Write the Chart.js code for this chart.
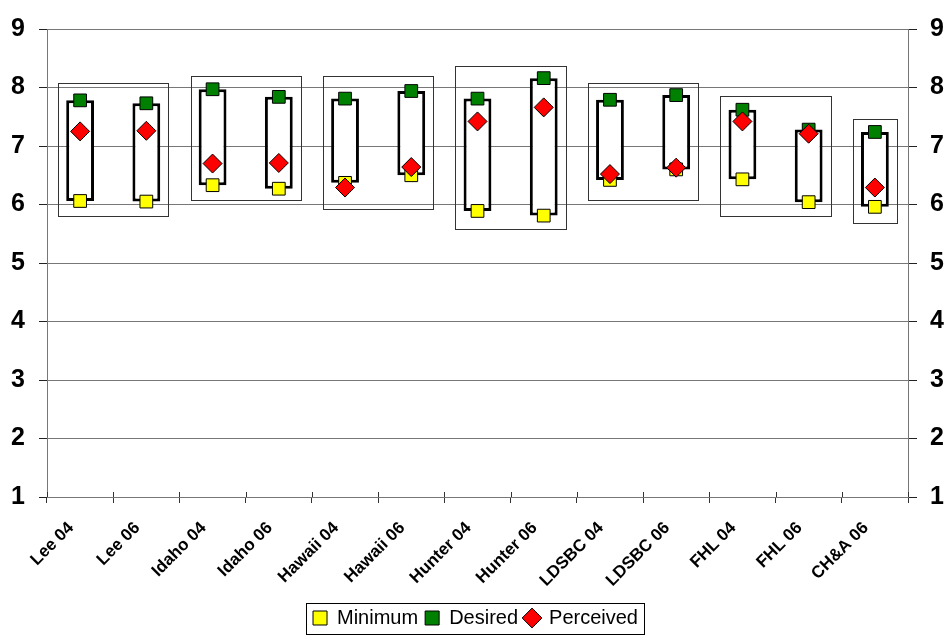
<!DOCTYPE html>
<html>
<head>
<meta charset="utf-8">
<script src="https://cdn.jsdelivr.net/npm/chart.js@4/dist/chart.umd.min.js"></script>
<style>
  html, body { margin: 0; padding: 0; background: #fff; }
  #wrap { width: 951px; height: 638px; }
</style>
</head>
<body>
<div id="wrap"><canvas id="chart" width="951" height="638"></canvas></div>
<script>
// Kategorien
const labels = ['Lee 04', 'Lee 06', 'Idaho 04', 'Idaho 06', 'Hawaii 04', 'Hawaii 06',
    'Hunter 04', 'Hunter 06', 'LDSBC 04', 'LDSBC 06', 'FHL 04', 'FHL 06', 'CH&A 06'];

// Werte pro Reihe
const minimum   = [6.06, 6.05, 6.33, 6.27, 6.37, 6.50, 5.89, 5.81, 6.42, 6.60, 6.43, 6.04, 5.96];
const desired   = [7.78, 7.73, 7.97, 7.84, 7.81, 7.94, 7.81, 8.16, 7.79, 7.87, 7.62, 7.28, 7.24];
const perceived = [7.25, 7.26, 6.70, 6.71, 6.29, 6.64, 7.42, 7.66, 6.52, 6.63, 7.42, 7.21, 6.29];

// Rahmen um die Gruppen (erste/letzte Kategorie, unten/oben)
const groupFirst = [0, 2, 4, 6, 8, 10, 12];
const groupLast  = [1, 3, 5, 7, 9, 11, 12];
const groupLow   = [5.80, 6.08, 5.93, 5.58, 6.08, 5.81, 5.69];
const groupHigh  = [8.07, 8.19, 8.20, 8.36, 8.08, 7.86, 7.46];

// Y-Achse
const yTicks = [1, 2, 3, 4, 5, 6, 7, 8, 9];

const FONT = 'Arial, "Liberation Sans", sans-serif';

// Spanne Minimum bis Desired als schwebende Balken
const rangeData = minimum.map((m, i) => [m, desired[i]]);

// Gruppenrahmen zeichnen
const groupBoxes = {
    id: 'groupBoxes',
    beforeDatasetsDraw(chart) {
        const ctx = chart.ctx;
        const x = chart.scales.x;
        const y = chart.scales.y;
        const step = x.getPixelForValue(1) - x.getPixelForValue(0);
        const pad = step / 3;
        ctx.save();
        ctx.strokeStyle = '#333';
        ctx.lineWidth = 1;
        for (let i = 0; i < groupFirst.length; i++) {
            const x1 = Math.round(x.getPixelForValue(groupFirst[i]) - pad) + 0.5;
            const x2 = Math.round(x.getPixelForValue(groupLast[i]) + pad) + 0.5;
            const y1 = Math.round(y.getPixelForValue(groupHigh[i])) + 0.5;
            const y2 = Math.round(y.getPixelForValue(groupLow[i])) + 0.5;
            ctx.strokeRect(x1, y1, x2 - x1, y2 - y1);
        }
        ctx.restore();
    }
};

// Rahmen um die Legende, Teilstriche der X-Achse auch nach innen
const extras = {
    id: 'extras',
    afterDraw(chart) {
        const ctx = chart.ctx;
        ctx.save();
        // kurze Striche oberhalb der X-Achse
        const x = chart.scales.x;
        const half = (x.getPixelForValue(1) - x.getPixelForValue(0)) / 2;
        const yb = chart.chartArea.bottom;
        ctx.strokeStyle = '#333';
        ctx.lineWidth = 1;
        ctx.beginPath();
        for (let i = 0; i <= labels.length; i++) {
            const px = Math.round(x.getPixelForValue(i) - half) + 0.5;
            ctx.moveTo(px, yb - 5);
            ctx.lineTo(px, yb);
        }
        ctx.stroke();

        const boxes = chart.legend.legendHitBoxes;
        if (boxes && boxes.length) {
            let left = Infinity, right = -Infinity, top = Infinity, bottom = -Infinity;
            boxes.forEach(b => {
                left = Math.min(left, b.left);
                right = Math.max(right, b.left + b.width);
                top = Math.min(top, b.top);
                bottom = Math.max(bottom, b.top + b.height);
            });
            ctx.strokeStyle = '#000';
            const l = Math.round(left - 7) + 0.5, r = Math.round(right + 6) + 0.5;
            const t = Math.round(top - 5) + 0.5, b = Math.round(bottom + 6) + 0.5;
            ctx.strokeRect(l, t, r - l, b - t);
        }
        ctx.restore();
    }
};

const pointSet = (label, data, color, style, radius, order) => ({
    type: 'line',
    label: label,
    data: data,
    showLine: false,
    pointStyle: style,
    pointRadius: radius,
    pointHoverRadius: radius,
    pointBackgroundColor: color,
    pointBorderColor: '#000',
    pointBorderWidth: 1,
    backgroundColor: color,
    borderColor: '#000',
    borderWidth: 1,
    order: order
});

new Chart(document.getElementById('chart'), {
    data: {
        labels: labels,
        datasets: [
            pointSet('Minimum', minimum, '#ffff00', 'rect', 9, 3),
            pointSet('Desired', desired, '#008000', 'rect', 9, 2),
            pointSet('Perceived', perceived, '#ff0000', 'rectRot', 9.5, 1),
            {
                type: 'bar',
                label: 'Range',
                data: rangeData,
                backgroundColor: '#fff',
                borderColor: '#000',
                borderWidth: 3,
                borderSkipped: false,
                categoryPercentage: 1,
                barPercentage: 0.42,
                order: 4
            }
        ]
    },
    options: {
        responsive: false,
        animation: false,
        layout: { autoPadding: false, padding: { left: 0, right: 0, top: 16, bottom: 0 } },
        plugins: {
            tooltip: { enabled: false },
            legend: {
                position: 'bottom',
                labels: {
                    usePointStyle: true,
                    boxWidth: 14,
                    boxHeight: 14,
                    padding: 7,
                    color: '#000',
                    font: { family: FONT, size: 20 },
                    filter: item => item.datasetIndex !== 3,
                    sort: (a, b) => a.datasetIndex - b.datasetIndex
                }
            }
        },
        scales: {
            x: {
                offset: true,
                afterFit: scale => { scale.height = 104; },
                grid: {
                    offset: true,
                    drawOnChartArea: false,
                    tickLength: 6,
                    color: '#333'
                },
                border: { color: '#777' },
                ticks: {
                    autoSkip: false,
                    maxRotation: 45,
                    minRotation: 45,
                    padding: 15,
                    labelOffset: -9,
                    color: '#000',
                    font: { family: FONT, size: 17, weight: 'bold' }
                }
            },
            y: {
                position: 'left',
                min: yTicks[0],
                max: yTicks[yTicks.length - 1],
                afterBuildTicks: scale => { scale.ticks = yTicks.map(v => ({ value: v })); },
                afterFit: scale => { scale.width = 47; },
                grid: { color: '#777', tickColor: '#222', tickLength: 8 },
                border: { color: '#777' },
                ticks: {
                    padding: 14,
                    color: '#000',
                    font: { family: FONT, size: 25, weight: 'bold' }
                }
            },
            y2: {
                position: 'right',
                min: yTicks[0],
                max: yTicks[yTicks.length - 1],
                afterBuildTicks: scale => { scale.ticks = yTicks.map(v => ({ value: v })); },
                afterFit: scale => { scale.width = 43; },
                grid: { drawOnChartArea: false, tickColor: '#222', tickLength: 9 },
                border: { color: '#777' },
                ticks: {
                    padding: 13,
                    color: '#000',
                    font: { family: FONT, size: 25, weight: 'bold' }
                }
            }
        }
    },
    plugins: [groupBoxes, extras]
});
</script>
</body>
</html>
